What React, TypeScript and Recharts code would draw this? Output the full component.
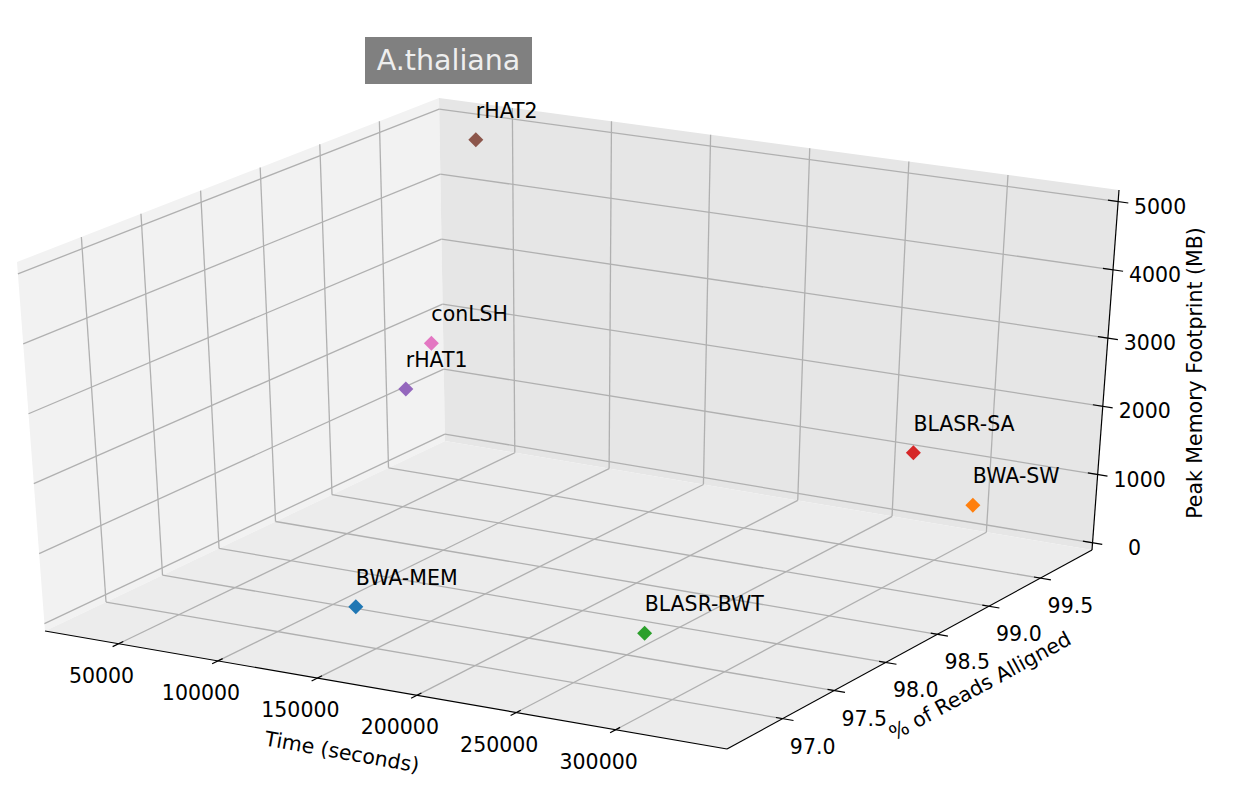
import { ScatterChart, Scatter, XAxis, YAxis, Customized } from "recharts";

const tools = ["BWA-MEM", "BWA-SW", "BLASR-BWT", "BLASR-SA", "rHAT1", "rHAT2", "conLSH"];
const timeSec = [138000, 329700, 277900, 307400, 112100, 55900, 112200];
const pctAligned = [97.04, 99.29, 97.15, 99.11, 97.99, 99.59, 98.22];
const memMB = [400, 1000, 600, 1800, 2700, 5000, 3200];
const toolColors = ["#1f77b4", "#ff7f0e", "#2ca02c", "#d62728", "#9467bd", "#8c564b", "#e377c2"];

const timeTicks = [50000, 100000, 150000, 200000, 250000, 300000];
const pctTicks = [97.0, 97.5, 98.0, 98.5, 99.0, 99.5];
const memTicks = [0, 1000, 2000, 3000, 4000, 5000];

const W = 1257;
const H = 798;
const FONT = "DejaVu Sans";

// limits of the drawn cube (a bit wider than the data, like mpl does)
const tLim = [13000, 356000];
const pLim = [96.46, 100.0];
const mLim = [-106, 5170];

// cube placement on the page: floor corners and vertical edge vectors,
// ordered (tmin,pmin), (tmax,pmin), (tmin,pmax), (tmax,pmax)
const floorX = [45, 727, 445, 1092];
const floorY = [631, 749, 441, 550];
const upX = [-28, 5, -6, 27];
const upY = [-369, -386, -343, -360];

function bil(a: number[], u: number, v: number) {
  return (1 - u) * (1 - v) * a[0] + u * (1 - v) * a[1] + (1 - u) * v * a[2] + u * v * a[3];
}

function projN(u: number, v: number, w: number): [number, number] {
  return [bil(floorX, u, v) + w * bil(upX, u, v), bil(floorY, u, v) + w * bil(upY, u, v)];
}

const nt = (t: number) => (t - tLim[0]) / (tLim[1] - tLim[0]);
const np = (p: number) => (p - pLim[0]) / (pLim[1] - pLim[0]);
const nm = (m: number) => (m - mLim[0]) / (mLim[1] - mLim[0]);

function proj(t: number, p: number, m: number) {
  return projN(nt(t), np(p), nm(m));
}

const data = tools.map((name, i) => {
  const [sx, sy] = proj(timeSec[i], pctAligned[i], memMB[i]);
  return { name, sx, sy, color: toolColors[i] };
});

function poly(pts: [number, number][]) {
  return pts.map((p) => p[0].toFixed(1) + "," + p[1].toFixed(1)).join(" ");
}

function Seg({ a, b, stroke = "#b0b0b0", width = 1.3 }: any) {
  return <line x1={a[0]} y1={a[1]} x2={b[0]} y2={b[1]} stroke={stroke} strokeWidth={width} />;
}

function Frame() {
  const floor = [projN(0, 0, 0), projN(1, 0, 0), projN(1, 1, 0), projN(0, 1, 0)] as [number, number][];
  const leftWall = [projN(0, 0, 0), projN(0, 1, 0), projN(0, 1, 1), projN(0, 0, 1)] as [number, number][];
  const backWall = [projN(0, 1, 0), projN(1, 1, 0), projN(1, 1, 1), projN(0, 1, 1)] as [number, number][];
  const txt = { fontFamily: FONT, fontSize: 20.5, fill: "#000" };

  return (
    <g>
      <polygon points={poly(leftWall)} fill="#f2f2f2" />
      <polygon points={poly(backWall)} fill="#e6e6e6" />
      <polygon points={poly(floor)} fill="#ececec" />

      {/* grid */}
      {timeTicks.map((t) => (
        <g key={"tg" + t}>
          <Seg a={projN(nt(t), 0, 0)} b={projN(nt(t), 1, 0)} />
          <Seg a={projN(nt(t), 1, 0)} b={projN(nt(t), 1, 1)} />
        </g>
      ))}
      {pctTicks.map((p) => (
        <g key={"pg" + p}>
          <Seg a={projN(0, np(p), 0)} b={projN(1, np(p), 0)} />
          <Seg a={projN(0, np(p), 0)} b={projN(0, np(p), 1)} />
        </g>
      ))}
      {memTicks.map((m) => (
        <g key={"mg" + m}>
          <Seg a={projN(0, 0, nm(m))} b={projN(0, 1, nm(m))} />
          <Seg a={projN(0, 1, nm(m))} b={projN(1, 1, nm(m))} />
        </g>
      ))}

      {/* axis lines */}
      <Seg a={projN(0, 0, 0)} b={projN(1, 0, 0)} stroke="#000" width={1.2} />
      <Seg a={projN(1, 0, 0)} b={projN(1, 1, 0)} stroke="#000" width={1.2} />
      <Seg a={projN(1, 1, 0)} b={projN(1, 1, 1)} stroke="#000" width={1.2} />

      {/* ticks + labels */}
      {timeTicks.map((t) => {
        const [x, y] = projN(nt(t), 0, 0);
        return (
          <g key={"tt" + t}>
            <Seg a={projN(nt(t), -0.015, 0)} b={projN(nt(t), 0.012, 0)} stroke="#000" width={1.2} />
            <text x={x - 17} y={y + 32} textAnchor="middle" dominantBaseline="central" {...txt}>
              {t}
            </text>
          </g>
        );
      })}
      {pctTicks.map((p) => {
        const [x, y] = projN(1, np(p), 0);
        return (
          <g key={"pt" + p}>
            <Seg a={projN(0.99, np(p), 0)} b={projN(1.016, np(p), 0)} stroke="#000" width={1.2} />
            <text x={x + 30} y={y + 28} textAnchor="middle" dominantBaseline="central" {...txt}>
              {p.toFixed(1)}
            </text>
          </g>
        );
      })}
      {memTicks.map((m) => {
        const [x, y] = projN(1, 1, nm(m));
        return (
          <g key={"mt" + m}>
            <Seg a={projN(0.985, 1, nm(m))} b={projN(1.015, 1, nm(m))} stroke="#000" width={1.2} />
            <text x={x + 42} y={y + 5} textAnchor="middle" dominantBaseline="central" {...txt}>
              {m}
            </text>
          </g>
        );
      })}

      {/* axis titles */}
      <text x={342} y={752} transform="rotate(10 342 752)" textAnchor="middle" dominantBaseline="central" {...txt}>
        Time (seconds)
      </text>
      <text x={980} y={686} transform="rotate(-28.6 980 686)" textAnchor="middle" dominantBaseline="central" {...txt}>
        % of Reads Alligned
      </text>
      <text x={1195} y={373} transform="rotate(-90 1195 373)" textAnchor="middle" dominantBaseline="central" {...txt}>
        Peak Memory Footprint (MB)
      </text>

      {/* title box */}
      <rect x={365} y={37} width={167} height={47} fill="#808080" />
      <text x={448.5} y={60.5} textAnchor="middle" dominantBaseline="central" fontFamily={FONT} fontSize={28.5} fill="#eeeeee">
        A.thaliana
      </text>
    </g>
  );
}

function Diamond(props: any) {
  const { cx, cy, payload } = props;
  const r = 7.5;
  return (
    <g>
      <polygon points={`${cx},${cy - r} ${cx + r},${cy} ${cx},${cy + r} ${cx - r},${cy}`} fill={payload.color} />
      <text x={cx} y={cy - 22} fontFamily={FONT} fontSize={20.5} fill="#000">
        {payload.name}
      </text>
    </g>
  );
}

export default function App() {
  return (
    <div style={{ position: "absolute", left: 0, top: 0, width: W, height: H, background: "#fff" }}>
      <ScatterChart width={W} height={H} margin={{ top: 0, right: 0, bottom: 0, left: 0 }}>
        <XAxis type="number" dataKey="sx" domain={[0, W]} allowDataOverflow hide />
        <YAxis type="number" dataKey="sy" domain={[0, H]} allowDataOverflow reversed hide />
        <Customized component={<Frame />} />
        <Scatter data={data} shape={Diamond} isAnimationActive={false} />
      </ScatterChart>
    </div>
  );
}
